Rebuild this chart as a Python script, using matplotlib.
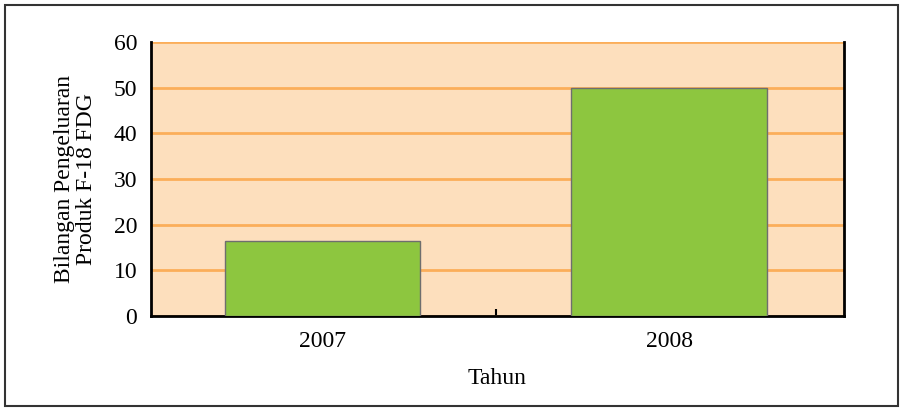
import matplotlib.pyplot as plt
from matplotlib.patches import Rectangle

tahun = ['2007', '2008']
bilangan = [16.5, 50]
yticks = [0, 10, 20, 30, 40, 50, 60]

plt.rcParams['font.family'] = ['Liberation Serif', 'DejaVu Serif']

fig = plt.figure(figsize=(9.03, 4.11), dpi=100)
ax = fig.add_axes([151 / 903, 1 - 316 / 411, (844 - 151) / 903, (316 - 42) / 411])

ax.set_facecolor('#FDDFBD')
ax.bar([0, 1], bilangan, width=0.565, color='#8DC63F', edgecolor='#6E6E6E',
       linewidth=1, zorder=3)
ax.set_xlim(-0.495, 1.505)
ax.set_ylim(0, 60)
ax.set_yticks(yticks)
ax.set_xticks([0, 1])
ax.set_xticklabels(tahun)
ax.set_xticks([0.5], minor=True)
ax.tick_params(axis='x', which='major', length=0, labelsize=17, pad=11)
ax.tick_params(axis='x', which='minor', length=5, width=1.5, direction='in')
ax.tick_params(axis='y', length=0, labelsize=17, pad=10)
ax.grid(axis='y', color='#FBAE5A', linewidth=2, zorder=1)

for s in ['left', 'bottom', 'right']:
    ax.spines[s].set_linewidth(2)
    ax.spines[s].set_color('black')
ax.spines['top'].set_visible(False)

ax.set_xlabel('Tahun', fontsize=17, labelpad=11)
ax.set_ylabel('Bilangan Pengeluaran\nProduk F-18 FDG', fontsize=17,
              labelpad=12, linespacing=1.05)

fig.patches.append(Rectangle((5 / 903, 5 / 411), 893 / 903, 401 / 411,
                             transform=fig.transFigure, fill=False,
                             edgecolor='#333333', linewidth=1.5))

fig.savefig('out.png', dpi=100)
